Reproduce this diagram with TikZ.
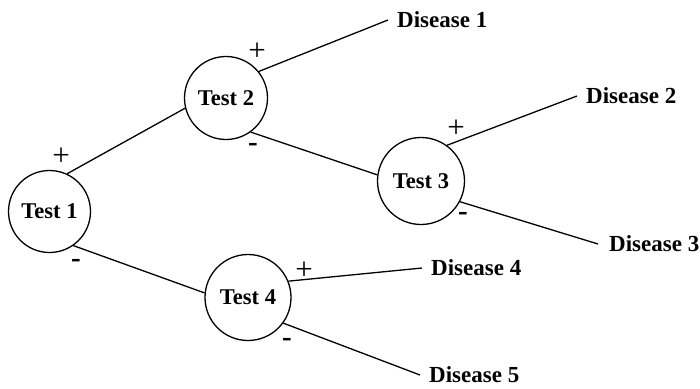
\documentclass[tikz,border=0pt]{standalone}
\usepackage{fontspec}
\setmainfont{Liberation Serif}
\begin{document}
\begin{tikzpicture}[x=1pt,y=-1pt,
  testnode/.style={draw,circle,line width=1.3pt,inner sep=0pt,font=\fontsize{22.5}{24}\selectfont\bfseries},
  disnode/.style={anchor=west,inner xsep=9pt,inner ysep=0pt,text depth=0pt,font=\fontsize{23}{25}\selectfont\bfseries},
  signplus/.style={font=\fontsize{31}{32}\selectfont,inner sep=0pt},
  signminus/.style={font=\fontsize{29}{30}\selectfont\bfseries,inner sep=0pt},
  edge/.style={line width=1.3pt}]
\useasboundingbox (0,0) rectangle (700,388);
\node[testnode,minimum size=82pt] (t1) at (49.5,211.5) {Test 1};
\node[testnode,minimum size=83pt] (t2) at (226,98) {Test 2};
\node[testnode,minimum size=87pt] (t3) at (421,181) {Test 3};
\node[testnode,minimum size=86pt] (t4) at (248,297.5) {Test 4};
\node[disnode] (d1) at (388,20) {Disease 1};
\node[disnode] (d2) at (577,96) {Disease 2};
\node[disnode,inner xsep=11pt] (d3) at (598,244) {Disease 3};
\node[disnode] (d4) at (422,268) {Disease 4};
\node[disnode] (d5) at (420,375) {Disease 5};
\draw[edge] (t1.65) -- (t2.194);
\draw[edge] (t1.-55) -- (t4.174);
\draw[edge] (t2.39) -- (d1.west);
\draw[edge] (t2.-54) -- (t3.172);
\draw[edge] (t3.54) -- (d2.west);
\draw[edge] (t3.-28) -- (d3.west);
\draw[edge] (t4.22) -- (d4.west);
\draw[edge] (t4.-36) -- (d5.west);
\node[signplus] (p1) at (61,157) {+};
\node[signminus] (m1) at (76,263) {-};
\node[signplus] (p2) at (257,52) {+};
\node[signminus] (m2) at (253,147) {-};
\node[signplus] (p3) at (456,129) {+};
\node[signminus] (m3) at (463,216) {-};
\node[signplus] (p4) at (304,271) {+};
\node[signminus] (m4) at (287,342) {-};
\end{tikzpicture}
\end{document}
